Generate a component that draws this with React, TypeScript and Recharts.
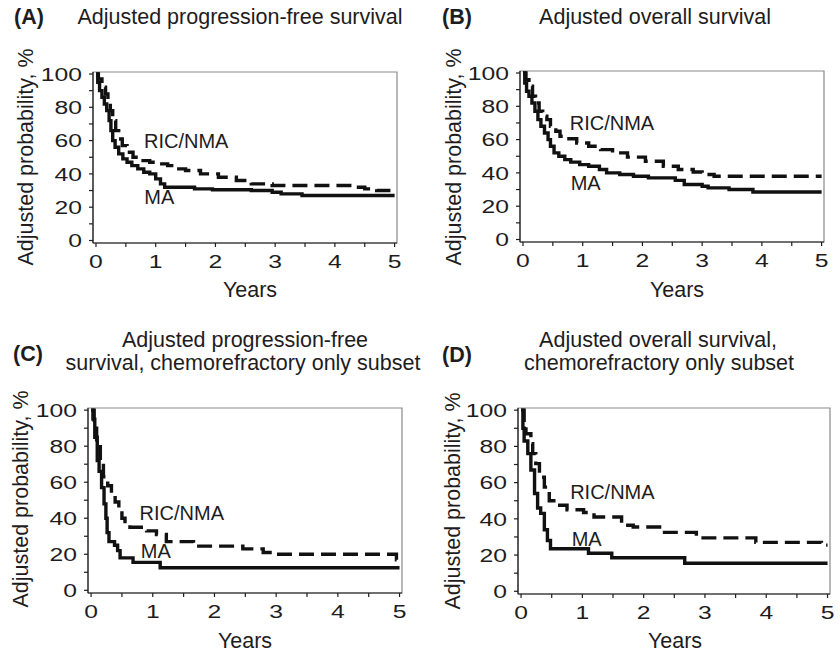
import React from 'react';
import { LineChart, Line, XAxis, YAxis, ReferenceArea, ReferenceDot } from 'recharts';

// [years, adjusted probability %]
const pfsMA: [number, number][] = [
  [0, 100], [0.03, 95], [0.06, 90], [0.1, 86], [0.14, 82], [0.18, 78], [0.22, 72], [0.25, 66],
  [0.28, 60], [0.32, 56], [0.38, 52], [0.45, 49], [0.52, 47], [0.6, 45], [0.7, 43], [0.8, 41],
  [0.9, 40], [1.0, 37], [1.08, 34], [1.15, 32], [1.65, 31], [1.95, 30.5], [2.6, 30], [2.95, 29],
  [3.1, 28], [3.45, 27], [5, 27],
];
const pfsRIC: [number, number][] = [
  [0, 100], [0.04, 97], [0.1, 92], [0.16, 88], [0.2, 84], [0.24, 78], [0.28, 72], [0.33, 66],
  [0.38, 61], [0.44, 57], [0.52, 53], [0.62, 50], [0.75, 48], [0.9, 47], [1.05, 46], [1.2, 45],
  [1.35, 43], [1.5, 42], [1.75, 40], [2.05, 38], [2.35, 36], [2.6, 34], [2.95, 33], [4.3, 32],
  [4.5, 31], [4.7, 30], [5, 30],
];
const osMA: [number, number][] = [
  [0, 100], [0.03, 94], [0.06, 89], [0.1, 86], [0.15, 82], [0.2, 77], [0.25, 72], [0.3, 68],
  [0.36, 64], [0.42, 60], [0.46, 56], [0.52, 52], [0.6, 50], [0.7, 48], [0.8, 46.5], [0.95, 45],
  [1.1, 44], [1.28, 42], [1.4, 40], [1.62, 39], [1.85, 38], [2.1, 37], [2.55, 35.5], [2.7, 33],
  [3.0, 32], [3.1, 31], [3.45, 30], [3.85, 28.5], [5, 28.5],
];
const osRIC: [number, number][] = [
  [0, 100], [0.05, 96], [0.1, 92], [0.16, 86], [0.21, 82], [0.27, 77], [0.33, 74], [0.4, 72],
  [0.46, 68], [0.55, 65], [0.62, 62], [0.74, 60.5], [0.9, 58], [1.1, 56], [1.3, 54], [1.5, 52],
  [1.75, 49.5], [2.05, 47], [2.35, 44], [2.6, 42], [2.85, 40.5], [3.0, 39], [3.2, 38], [5, 38],
];
const crPfsMA: [number, number][] = [
  [0, 100], [0.03, 95], [0.06, 85], [0.1, 72], [0.13, 66], [0.17, 57], [0.21, 48], [0.24, 40],
  [0.26, 32], [0.29, 27], [0.38, 25], [0.43, 22], [0.47, 18], [0.68, 15.5], [1.12, 12.5], [5, 12.5],
];
const crPfsRIC: [number, number][] = [
  [0, 100], [0.05, 90], [0.09, 81], [0.15, 72], [0.2, 63], [0.27, 58], [0.33, 54], [0.39, 49],
  [0.45, 45], [0.5, 40], [0.55, 37], [0.63, 35], [0.9, 33], [1.06, 31], [1.22, 27], [1.66, 24.5],
  [2.46, 23], [2.79, 21], [2.95, 20], [4.95, 17], [5, 17],
];
const crOsMA: [number, number][] = [
  [0, 100], [0.03, 90], [0.05, 83], [0.11, 76], [0.16, 67], [0.22, 54], [0.27, 46], [0.32, 43],
  [0.38, 34], [0.43, 28], [0.48, 23.5], [1.1, 21], [1.48, 18.5], [2.67, 15.5], [5, 15.5],
];
const crOsRIC: [number, number][] = [
  [0, 100], [0.05, 92], [0.08, 87], [0.16, 81.5], [0.19, 76], [0.24, 70.5], [0.3, 63], [0.38, 57.5],
  [0.46, 50], [0.59, 47.5], [0.75, 45], [1.02, 43.5], [1.19, 41], [1.64, 36.5], [1.83, 35.5],
  [2.26, 32.5], [2.86, 29.5], [3.83, 27], [4.9, 25.5], [5, 25.5],
];

const xTicks = [0, 0.5, 1, 1.5, 2, 2.5, 3, 3.5, 4, 4.5, 5];
const yTicks = [0, 10, 20, 30, 40, 50, 60, 70, 80, 90, 100];
const xDomain: [number, number] = [-0.05, 5.04];
const yDomain: [number, number] = [-1.5, 101.2];

const FONT = 'Arial, "Liberation Sans", Helvetica, sans-serif';
const INK = '#1e1c1d';

const toRows = (pts: [number, number][]) => pts.map(([t, p]) => ({ t, p }));

const panels = [
  { id: 'A', left: 0, top: 0, h: 320, margin: { top: 72, right: 23, bottom: 47, left: 53 },
    ma: pfsMA, ric: pfsRIC, ricAt: [1.51, 60], maAt: [1.06, 26] },
  { id: 'B', left: 420, top: 0, h: 320, margin: { top: 71, right: 16, bottom: 48, left: 60 },
    ma: osMA, ric: osRIC, ricAt: [1.49, 70], maAt: [1.05, 34] },
  { id: 'C', left: 0, top: 320, h: 333, margin: { top: 88, right: 18, bottom: 30, left: 48 },
    ma: crPfsMA, ric: crPfsRIC, ricAt: [1.47, 43], maAt: [1.05, 22] },
  { id: 'D', left: 420, top: 320, h: 333, margin: { top: 88, right: 10, bottom: 29, left: 58 },
    ma: crOsMA, ric: crOsRIC, ricAt: [1.49, 55], maAt: [1.07, 29] },
];

function XTick(props: any) {
  const { x, y, payload } = props;
  if (!Number.isInteger(payload.value)) return <g />;
  return (
    <text transform={`translate(${x},${y + 20.5}) scale(1.3,1)`} textAnchor="middle" fontSize={19} fill={INK}>
      {payload.value}
    </text>
  );
}

function YTick(props: any) {
  const { x, y, payload } = props;
  if (payload.value % 20 !== 0) return <g />;
  return (
    <text transform={`translate(${x - 7},${y}) scale(1.3,1)`} textAnchor="end" dy="0.36em" fontSize={19} fill={INK}>
      {payload.value}
    </text>
  );
}

function Panel({ p }: { p: (typeof panels)[number] }) {
  const lab = { fontSize: 20, fill: INK, position: 'center' as const };
  return (
    <div style={{ position: 'absolute', left: p.left, top: p.top }}>
      <LineChart width={420} height={p.h} margin={p.margin}>
        <XAxis type="number" dataKey="t" domain={xDomain} ticks={xTicks} interval={0} allowDataOverflow
          tick={XTick} tickSize={4} tickMargin={0} height={30} stroke={INK} strokeWidth={1.2} />
        <YAxis type="number" domain={yDomain} ticks={yTicks} interval={0} allowDataOverflow
          tick={YTick} tickSize={4} tickMargin={0} width={40} stroke={INK} strokeWidth={1.2} />
        <ReferenceArea x1={xDomain[0]} x2={xDomain[1]} y1={yDomain[0]} y2={yDomain[1]}
          fill="none" stroke="#8a8a8a" strokeWidth={1.2} />
        <Line data={toRows(p.ric)} dataKey="p" type="stepAfter" stroke="#111" strokeWidth={3.4}
          strokeDasharray="15 7" dot={false} isAnimationActive={false} />
        <Line data={toRows(p.ma)} dataKey="p" type="stepAfter" stroke="#111" strokeWidth={3.4}
          dot={false} isAnimationActive={false} />
        <ReferenceDot x={p.ricAt[0]} y={p.ricAt[1]} r={0} fill="none" stroke="none" label={{ value: 'RIC/NMA', ...lab }} />
        <ReferenceDot x={p.maAt[0]} y={p.maAt[1]} r={0} fill="none" stroke="none" label={{ value: 'MA', ...lab }} />
      </LineChart>
    </div>
  );
}

export default function App() {
  const t = { fontSize: 21.5, fill: INK };
  const b = { fontSize: 21.5, fill: INK, fontWeight: 'bold' as const };
  return (
    <div style={{ position: 'absolute', left: 0, top: 0, width: 840, height: 653, background: '#fff', fontFamily: FONT }}>
      {panels.map((p) => <Panel key={p.id} p={p} />)}
      <svg width={840} height={653} style={{ position: 'absolute', left: 0, top: 0, pointerEvents: 'none' }}>
        <text x={14} y={24} {...b}>(A)</text>
        <text x={240} y={24} textAnchor="middle" {...t}>Adjusted progression-free survival</text>
        <text transform="translate(33,157) rotate(-90)" textAnchor="middle" {...t}>Adjusted probability, %</text>
        <text x={250} y={297} textAnchor="middle" {...t}>Years</text>

        <text x={442} y={24} {...b}>(B)</text>
        <text x={655} y={24} textAnchor="middle" {...t}>Adjusted overall survival</text>
        <text transform="translate(461,157) rotate(-90)" textAnchor="middle" {...t}>Adjusted probability, %</text>
        <text x={677} y={297} textAnchor="middle" {...t}>Years</text>

        <text x={13} y={361} {...b}>(C)</text>
        <text x={245} y={347} textAnchor="middle" {...t}>Adjusted progression-free</text>
        <text x={243} y={370} textAnchor="middle" {...t}>survival, chemorefractory only subset</text>
        <text transform="translate(28,499) rotate(-90)" textAnchor="middle" {...t}>Adjusted probability, %</text>
        <text x={245} y={648} textAnchor="middle" {...t}>Years</text>

        <text x={442} y={362} {...b}>(D)</text>
        <text x={658} y={347} textAnchor="middle" {...t}>Adjusted overall survival,</text>
        <text x={659} y={370} textAnchor="middle" {...t}>chemorefractory only subset</text>
        <text transform="translate(460,501) rotate(-90)" textAnchor="middle" {...t}>Adjusted probability, %</text>
        <text x={675} y={648} textAnchor="middle" {...t}>Years</text>
      </svg>
    </div>
  );
}
